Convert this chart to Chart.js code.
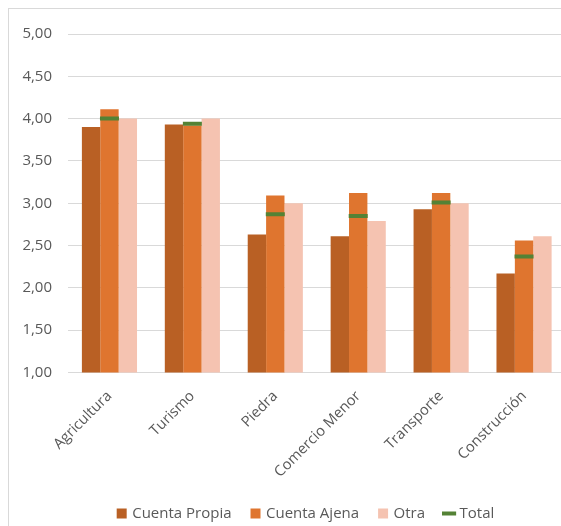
<!DOCTYPE html>
<html>
<head>
<meta charset="utf-8">
<script src="https://cdn.jsdelivr.net/npm/chart.js@4/dist/chart.umd.min.js"></script>
<style>
  html, body { margin: 0; padding: 0; background: #fff; overflow: hidden; }
  #box {
    position: absolute; left: 8px; top: 8px;
    width: 570px; height: 532px;
    border: 1px solid #d9d9d9;
  }
</style>
</head>
<body>
<div id="box"><canvas id="myChart"></canvas></div>
<script>
const categories = ['Agricultura', 'Turismo', 'Piedra', 'Comercio Menor', 'Transporte', 'Construcción'];
const cuentaPropia = [3.90, 3.93, 2.63, 2.61, 2.93, 2.17];
const cuentaAjena  = [4.11, 3.92, 3.09, 3.12, 3.12, 2.56];
const otra         = [4.00, 4.00, 3.00, 2.79, 3.00, 2.61];
const total        = [4.00, 3.94, 2.87, 2.85, 3.01, 2.37];

const textColor = '#595959';
const fontFam = "'Open Sans', sans-serif";

const ctx = document.getElementById('myChart');

// shift the legend a bit right, like the original
const legendShift = {
    id: 'legendShift',
    afterLayout(chart) {
        if (chart.legend) {
            chart.legend.left += 19;
            chart.legend.right += 19;
        }
    }
};

new Chart(ctx, {
    type: 'bar',
    data: {
        labels: categories,
        datasets: [
            { label: 'Cuenta Propia', data: cuentaPropia, backgroundColor: '#b96024', borderWidth: 0, pointStyle: 'rect' },
            { label: 'Cuenta Ajena', data: cuentaAjena, backgroundColor: '#df752f', borderWidth: 0, pointStyle: 'rect' },
            { label: 'Otra', data: otra, backgroundColor: '#f5c3b1', borderWidth: 0, pointStyle: 'rect' },
            {
                label: 'Total', type: 'line', data: total,
                showLine: false, order: -1,
                borderColor: '#548235', backgroundColor: '#548235', borderWidth: 4,
                pointStyle: 'line', pointRadius: 9.5, pointHoverRadius: 9.5,
                pointBorderWidth: 4, pointBorderColor: '#548235'
            }
        ]
    },
    plugins: [legendShift],
    options: {
        responsive: true,
        maintainAspectRatio: false,
        animation: false,
        datasets: {
            bar: { barPercentage: 1, categoryPercentage: 0.665 }
        },
        layout: { padding: { top: 16, right: 13, left: 0, bottom: 10 } },
        plugins: {
            tooltip: { enabled: false },
            legend: {
                position: 'bottom',
                labels: {
                    usePointStyle: true,
                    boxWidth: 6, boxHeight: 10,
                    padding: 21,
                    color: textColor,
                    font: { family: fontFam, size: 15 },
                    sort: (a, b) => a.datasetIndex - b.datasetIndex
                }
            }
        },
        scales: {
            x: {
                grid: { display: false },
                border: { display: false },
                afterFit: (scale) => { scale.height -= 3; },
                ticks: {
                    color: textColor,
                    font: { family: fontFam, size: 14.7 },
                    minRotation: 45, maxRotation: 45,
                    padding: 7
                }
            },
            y: {
                min: 1, max: 5,
                grid: { color: '#d9d9d9', lineWidth: 1, drawTicks: false },
                border: { display: false },
                afterFit: (scale) => { scale.width = 59; },
                ticks: {
                    stepSize: 0.5,
                    padding: 16,
                    color: textColor,
                    font: { family: fontFam, size: 15 },
                    callback: (v) => v.toFixed(2).replace('.', ',')
                }
            }
        }
    }
});
</script>
</body>
</html>
